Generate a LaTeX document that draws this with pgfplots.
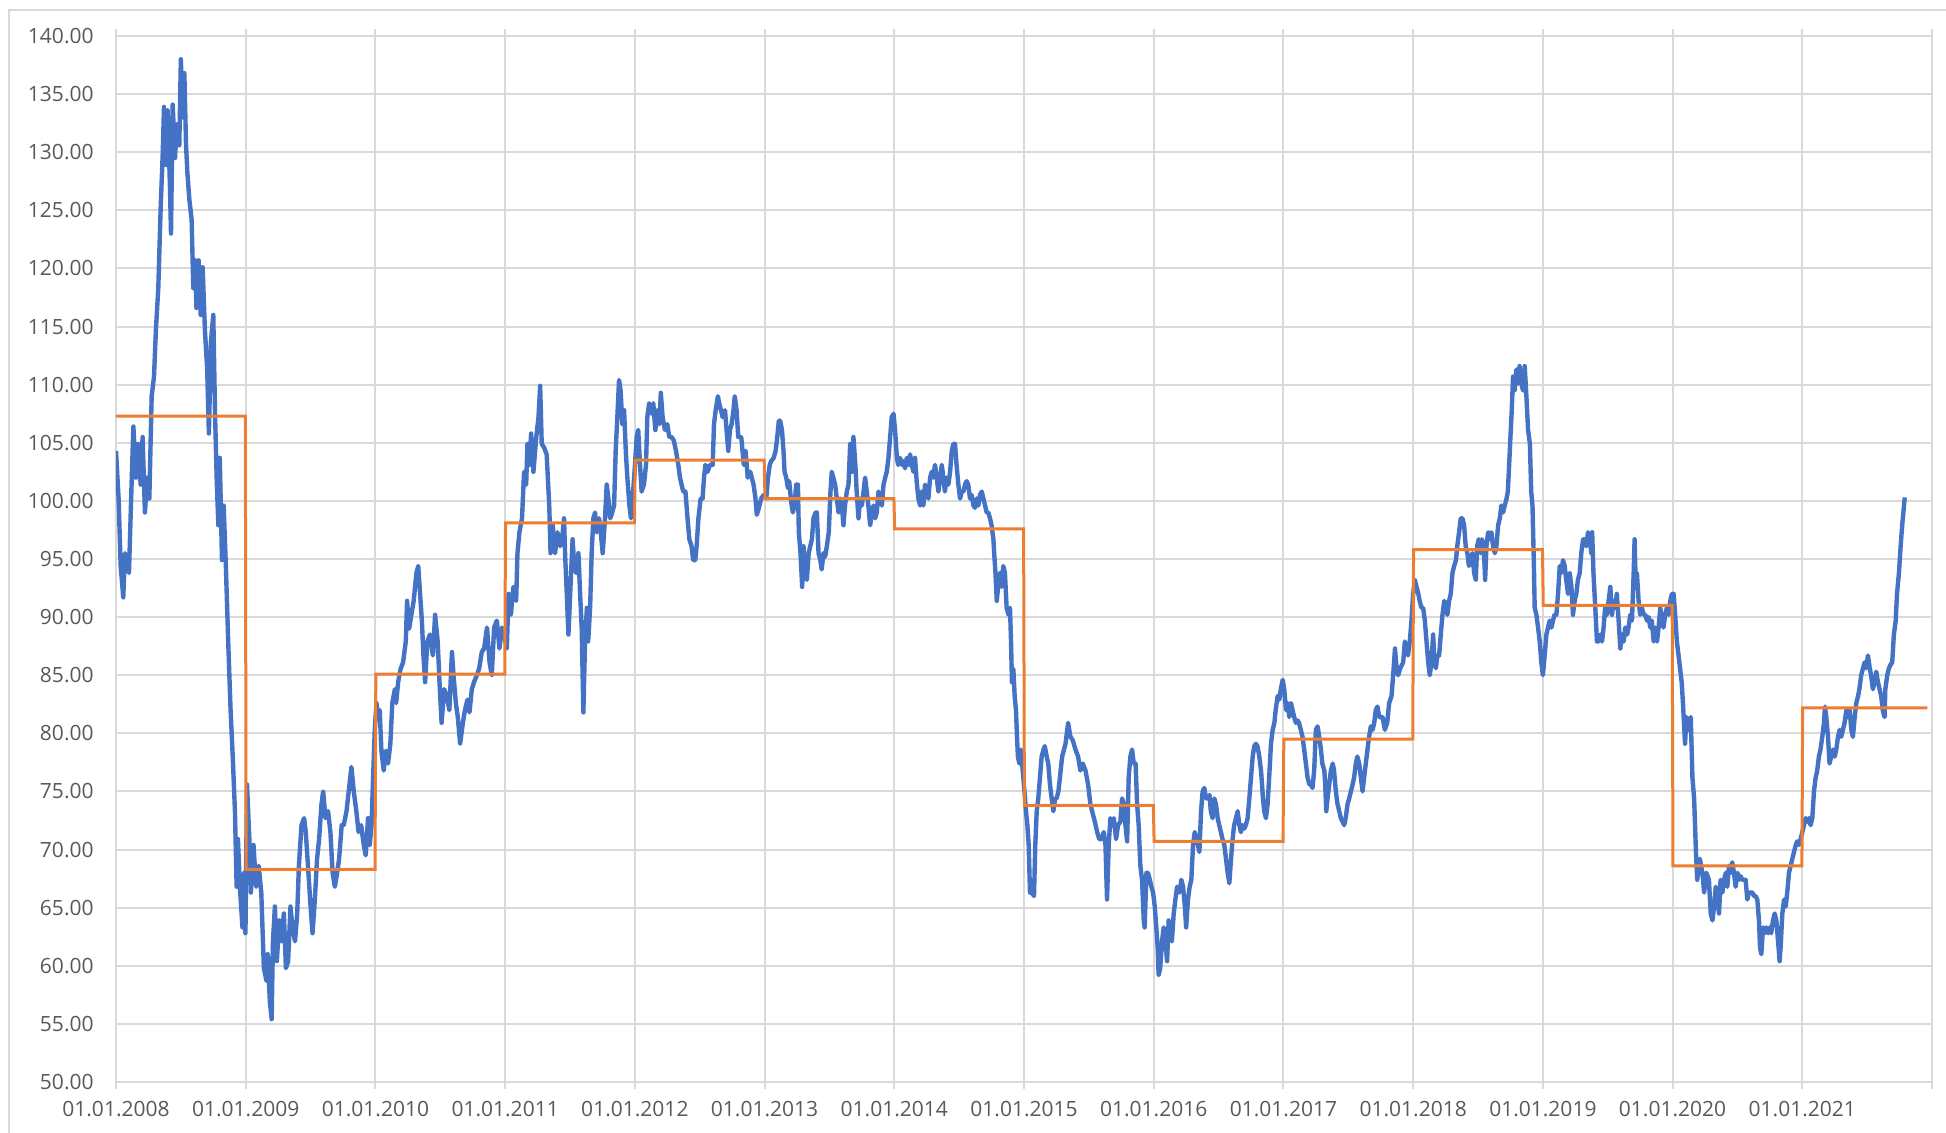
\documentclass[border=0pt]{standalone}
\usepackage{fontspec}
\setmainfont{Open Sans}
\usepackage{pgfplots}
\pgfplotsset{compat=1.18}
\definecolor{bl}{HTML}{4472C4}
\definecolor{orc}{HTML}{ED7D31}
\definecolor{gr}{HTML}{D9D9D9}
\definecolor{tx}{HTML}{595959}
\begin{document}
\begin{tikzpicture}
\begin{axis}[
  scale only axis, width=908pt, height=523pt,
  xmin=2008, xmax=2022, ymin=50, ymax=140,
  xtick={2008,2009,2010,2011,2012,2013,2014,2015,2016,2017,2018,2019,2020,2021,2022},
  xticklabels={01.01.2008,01.01.2009,01.01.2010,01.01.2011,01.01.2012,01.01.2013,01.01.2014,01.01.2015,01.01.2016,01.01.2017,01.01.2018,01.01.2019,01.01.2020,01.01.2021,{}},
  ytick={50,55,60,65,70,75,80,85,90,95,100,105,110,115,120,125,130,135,140},
  yticklabels={50.00,55.00,60.00,65.00,70.00,75.00,80.00,85.00,90.00,95.00,100.00,105.00,110.00,115.00,120.00,125.00,130.00,135.00,140.00},
  grid=major, grid style={draw=gr, line width=1pt},
  axis line style={draw=gr, line width=1pt},
  xtick align=outside, major tick length=3.5pt,
  xtick style={draw=gr, line width=1pt},
  ytick style={draw=none},
  tick label style={font=\fontsize{10.5pt}{12pt}\selectfont, text=tx},
  xticklabel style={anchor=north, inner sep=0pt, yshift=-6pt},
  yticklabel style={anchor=east, inner sep=0pt, xshift=-11pt},
]
\addplot[bl, line width=2.2pt, line join=round] table[row sep=\\] {
x y\\
2008.000 104.3\\ 2008.020 100.2\\ 2008.036 94.4\\ 2008.056 91.7\\ 2008.069 95.5\\ 2008.100 93.8\\
2008.120 101.4\\ 2008.134 106.4\\ 2008.154 102.0\\ 2008.172 104.9\\ 2008.190 101.4\\ 2008.205 105.5\\
2008.223 99.0\\ 2008.240 102.0\\ 2008.257 100.2\\ 2008.275 109.0\\ 2008.293 110.7\\ 2008.308 114.8\\
2008.326 118.3\\ 2008.344 125.1\\ 2008.360 129.8\\ 2008.370 133.9\\ 2008.385 128.9\\ 2008.398 133.6\\
2008.416 127.1\\ 2008.424 123.0\\ 2008.437 134.1\\ 2008.455 129.5\\ 2008.470 132.4\\ 2008.488 130.6\\
2008.500 138.0\\ 2008.514 133.0\\ 2008.527 136.8\\ 2008.540 130.6\\ 2008.550 128.3\\ 2008.565 126.0\\
2008.583 124.2\\ 2008.596 118.3\\ 2008.609 120.7\\ 2008.620 116.6\\ 2008.637 120.7\\ 2008.653 116.0\\
2008.668 120.1\\ 2008.685 114.8\\ 2008.703 111.3\\ 2008.716 105.8\\ 2008.732 113.7\\ 2008.750 116.0\\
2008.763 107.8\\ 2008.776 102.0\\ 2008.789 97.9\\ 2008.800 103.7\\ 2008.817 94.9\\ 2008.830 99.6\\
2008.847 94.4\\ 2008.865 87.9\\ 2008.883 82.1\\ 2008.900 78.0\\ 2008.917 73.3\\ 2008.930 66.8\\
2008.940 70.9\\ 2008.955 66.8\\ 2008.975 63.3\\ 2008.988 68.0\\ 2008.998 62.8\\
2009.010 75.6\\ 2009.030 70.4\\ 2009.040 66.3\\ 2009.060 70.4\\ 2009.080 66.8\\ 2009.100 68.6\\
2009.120 66.3\\ 2009.140 59.8\\ 2009.160 58.7\\ 2009.170 61.0\\ 2009.186 56.9\\ 2009.200 55.4\\
2009.210 62.1\\ 2009.225 65.1\\ 2009.240 60.4\\ 2009.258 63.9\\ 2009.276 62.1\\ 2009.294 64.5\\
2009.310 59.8\\ 2009.327 60.4\\ 2009.345 65.1\\ 2009.360 63.3\\ 2009.380 62.1\\ 2009.397 64.5\\
2009.410 68.6\\ 2009.430 72.1\\ 2009.450 72.7\\ 2009.463 71.5\\ 2009.480 68.6\\ 2009.500 65.1\\
2009.515 62.8\\ 2009.533 65.7\\ 2009.550 69.2\\ 2009.566 70.9\\ 2009.584 73.9\\ 2009.597 75.0\\
2009.615 72.7\\ 2009.635 73.3\\ 2009.653 71.5\\ 2009.670 68.0\\ 2009.687 66.8\\ 2009.705 68.0\\
2009.720 69.2\\ 2009.740 72.1\\ 2009.756 72.1\\ 2009.777 73.3\\ 2009.800 75.6\\ 2009.815 77.1\\
2009.833 75.0\\ 2009.853 73.3\\ 2009.870 71.5\\ 2009.890 72.1\\ 2009.910 70.4\\ 2009.925 69.5\\
2009.943 72.7\\ 2009.956 70.4\\ 2009.970 72.1\\ 2009.982 76.2\\ 2009.995 80.3\\
2010.008 82.6\\ 2010.020 81.4\\ 2010.033 82.0\\ 2010.046 78.5\\ 2010.064 76.8\\ 2010.080 78.5\\
2010.097 77.4\\ 2010.115 79.1\\ 2010.130 82.6\\ 2010.150 83.8\\ 2010.160 82.6\\ 2010.175 84.4\\
2010.193 85.5\\ 2010.213 86.1\\ 2010.234 87.9\\ 2010.244 91.4\\ 2010.260 89.0\\ 2010.277 90.2\\
2010.295 91.4\\ 2010.316 93.8\\ 2010.330 94.4\\
2010.358 89.7\\ 2010.370 86.7\\ 2010.383 84.4\\ 2010.400 87.9\\ 2010.420 88.5\\ 2010.443 86.7\\
2010.460 90.2\\ 2010.480 87.9\\ 2010.494 84.4\\ 2010.510 80.9\\ 2010.530 83.8\\ 2010.550 83.2\\
2010.570 82.0\\ 2010.590 87.0\\ 2010.602 85.0\\ 2010.620 82.6\\ 2010.635 81.4\\ 2010.653 79.1\\
2010.674 80.9\\ 2010.690 82.0\\ 2010.710 82.9\\ 2010.725 81.8\\ 2010.743 83.8\\ 2010.760 84.4\\
2010.782 85.0\\ 2010.800 85.6\\ 2010.820 87.0\\ 2010.838 87.3\\ 2010.860 89.1\\ 2010.880 86.1\\
2010.897 85.0\\ 2010.915 89.1\\ 2010.936 89.7\\ 2010.956 87.3\\ 2010.975 89.1\\ 2010.992 88.5\\
2011.013 87.3\\ 2011.026 92.0\\ 2011.044 90.2\\ 2011.064 92.6\\ 2011.085 91.4\\ 2011.095 95.5\\
2011.110 97.3\\ 2011.130 98.5\\ 2011.146 102.5\\ 2011.162 101.4\\ 2011.172 104.9\\ 2011.187 103.1\\
2011.200 105.8\\ 2011.218 102.5\\ 2011.240 105.5\\ 2011.257 107.2\\ 2011.270 109.9\\ 2011.282 104.9\\
2011.300 104.6\\ 2011.320 104.0\\ 2011.340 99.6\\ 2011.350 95.5\\ 2011.367 97.9\\ 2011.385 95.5\\
2011.403 97.3\\ 2011.424 96.1\\ 2011.444 97.3\\ 2011.454 98.5\\ 2011.462 95.5\\ 2011.475 92.0\\
2011.488 88.5\\ 2011.506 93.2\\ 2011.520 96.7\\ 2011.530 94.9\\ 2011.547 93.8\\ 2011.565 95.5\\
2011.578 92.0\\ 2011.590 89.1\\ 2011.603 81.8\\ 2011.616 87.9\\ 2011.630 90.8\\ 2011.640 87.9\\
2011.655 90.8\\ 2011.667 95.5\\ 2011.680 98.5\\ 2011.693 99.0\\ 2011.706 97.3\\ 2011.724 98.5\\
2011.737 97.3\\ 2011.752 95.5\\ 2011.770 98.5\\ 2011.783 101.4\\ 2011.796 100.2\\ 2011.810 98.5\\
2011.820 98.8\\ 2011.840 99.6\\ 2011.852 104.3\\ 2011.865 107.2\\ 2011.878 110.4\\ 2011.890 109.5\\
2011.904 106.6\\ 2011.917 107.8\\ 2011.930 104.3\\ 2011.942 102.0\\ 2011.958 99.6\\ 2011.970 98.5\\
2011.983 100.2\\
2012.001 103.1\\ 2012.014 105.5\\ 2012.026 106.1\\ 2012.040 103.1\\ 2012.052 100.8\\ 2012.070 101.4\\
2012.086 103.1\\ 2012.096 107.2\\ 2012.110 108.4\\ 2012.130 107.5\\ 2012.142 108.4\\ 2012.158 106.1\\
2012.173 107.8\\ 2012.190 106.6\\ 2012.200 109.3\\ 2012.214 107.2\\ 2012.232 106.1\\ 2012.250 106.6\\
2012.265 105.5\\ 2012.283 105.5\\ 2012.300 105.2\\ 2012.317 104.3\\ 2012.335 103.1\\ 2012.348 102.0\\
2012.360 101.4\\ 2012.373 100.8\\ 2012.390 100.8\\ 2012.406 98.5\\ 2012.420 96.7\\ 2012.437 96.1\\
2012.450 94.9\\ 2012.466 94.9\\ 2012.476 96.1\\ 2012.490 98.5\\ 2012.507 100.2\\ 2012.522 100.2\\
2012.533 102.0\\ 2012.544 103.1\\ 2012.560 102.5\\ 2012.580 103.1\\ 2012.600 103.1\\ 2012.610 106.6\\
2012.623 107.8\\ 2012.640 109.0\\ 2012.650 108.4\\ 2012.664 107.8\\ 2012.677 107.2\\ 2012.695 107.8\\
2012.707 106.1\\ 2012.720 104.3\\ 2012.733 106.1\\ 2012.746 106.6\\ 2012.760 107.8\\ 2012.770 109.0\\
2012.784 107.8\\ 2012.797 105.5\\
2012.820 105.5\\ 2012.840 103.1\\ 2012.854 104.3\\ 2012.870 102.0\\ 2012.890 102.5\\ 2012.915 101.4\\
2012.930 100.2\\ 2012.940 98.8\\ 2012.956 99.4\\ 2012.974 100.2\\ 2012.992 100.5\\
2013.013 100.2\\ 2013.026 102.0\\ 2013.040 103.1\\ 2013.050 103.4\\ 2013.070 103.7\\ 2013.085 104.3\\
2013.098 105.5\\ 2013.110 106.9\\ 2013.120 106.9\\ 2013.134 106.1\\ 2013.146 104.3\\ 2013.154 102.5\\
2013.167 102.0\\ 2013.180 101.1\\ 2013.190 101.7\\ 2013.205 99.9\\ 2013.218 99.0\\ 2013.230 99.6\\
2013.244 101.4\\ 2013.257 101.4\\ 2013.264 97.3\\ 2013.277 95.5\\ 2013.290 92.6\\ 2013.300 96.1\\
2013.313 93.8\\ 2013.326 93.2\\ 2013.340 95.5\\ 2013.352 96.1\\ 2013.365 96.7\\ 2013.377 98.5\\
2013.393 99.0\\ 2013.403 99.0\\ 2013.416 95.5\\ 2013.430 94.9\\ 2013.440 94.1\\ 2013.454 95.5\\
2013.467 95.2\\ 2013.480 96.1\\ 2013.495 97.3\\ 2013.508 100.8\\ 2013.518 102.5\\ 2013.530 102.0\\
2013.544 101.4\\ 2013.557 100.2\\ 2013.570 99.0\\ 2013.583 100.2\\ 2013.596 99.6\\ 2013.608 97.9\\
2013.620 99.6\\ 2013.634 100.8\\ 2013.647 101.4\\ 2013.660 104.9\\ 2013.673 102.5\\ 2013.685 105.5\\
2013.700 103.1\\ 2013.710 100.8\\ 2013.724 98.5\\ 2013.737 100.2\\ 2013.750 99.6\\ 2013.763 100.8\\
2013.775 102.0\\ 2013.788 100.8\\ 2013.800 99.6\\ 2013.814 97.9\\ 2013.827 99.0\\ 2013.840 99.6\\
2013.852 98.5\\ 2013.865 99.0\\ 2013.878 100.8\\ 2013.890 100.2\\ 2013.904 99.6\\ 2013.917 101.4\\
2013.930 102.0\\ 2013.942 102.5\\ 2013.955 103.7\\ 2013.968 105.5\\ 2013.980 107.2\\ 2013.994 107.5\\
2014.006 106.1\\ 2014.020 103.7\\ 2014.030 103.1\\ 2014.045 103.7\\ 2014.058 103.1\\ 2014.070 103.4\\
2014.083 102.8\\ 2014.096 103.7\\ 2014.110 103.1\\ 2014.122 104.0\\ 2014.135 103.1\\ 2014.148 102.5\\
2014.160 103.7\\ 2014.173 101.6\\ 2014.186 100.2\\ 2014.199 99.6\\ 2014.210 100.8\\ 2014.224 99.6\\
2014.237 101.4\\ 2014.250 100.8\\ 2014.263 100.2\\ 2014.276 102.0\\ 2014.288 102.5\\ 2014.300 102.0\\
2014.314 103.1\\ 2014.327 102.0\\ 2014.340 100.8\\ 2014.353 102.0\\ 2014.366 103.1\\ 2014.378 102.0\\
2014.390 100.8\\ 2014.404 102.0\\ 2014.417 101.4\\ 2014.430 102.5\\ 2014.443 104.3\\ 2014.455 104.9\\
2014.468 104.9\\ 2014.480 103.1\\ 2014.494 101.4\\ 2014.507 100.2\\ 2014.520 100.8\\ 2014.533 100.8\\
2014.545 101.4\\ 2014.558 101.7\\ 2014.570 101.4\\ 2014.584 100.2\\ 2014.597 100.5\\ 2014.610 99.6\\
2014.622 99.4\\ 2014.635 100.2\\ 2014.648 99.6\\ 2014.660 100.5\\ 2014.674 100.8\\ 2014.687 100.2\\
2014.700 99.6\\ 2014.712 99.0\\ 2014.725 99.0\\ 2014.738 98.5\\ 2014.750 97.9\\ 2014.764 96.7\\
2014.770 95.5\\ 2014.780 93.8\\ 2014.790 91.4\\ 2014.800 92.6\\ 2014.815 93.8\\ 2014.828 92.6\\
2014.840 94.4\\ 2014.853 93.8\\ 2014.866 90.8\\ 2014.880 90.2\\ 2014.892 90.8\\ 2014.900 87.9\\
2014.907 84.4\\ 2014.918 85.5\\ 2014.928 83.2\\ 2014.938 82.0\\ 2014.946 79.7\\ 2014.953 78.0\\
2014.964 77.4\\ 2014.977 78.6\\ 2014.990 76.8\\
2015.008 74.4\\ 2015.015 73.3\\ 2015.026 72.1\\ 2015.036 70.4\\ 2015.046 66.3\\ 2015.062 66.3\\
2015.077 66.0\\ 2015.087 70.4\\ 2015.098 73.3\\ 2015.110 74.4\\ 2015.123 76.2\\ 2015.136 78.0\\
2015.150 78.6\\ 2015.160 78.9\\ 2015.175 78.0\\ 2015.187 77.4\\ 2015.200 75.6\\ 2015.213 74.4\\
2015.226 73.3\\ 2015.240 74.4\\ 2015.252 74.4\\ 2015.265 75.0\\ 2015.277 76.2\\
2015.294 78.0\\ 2015.320 79.1\\ 2015.340 80.9\\ 2015.358 79.7\\ 2015.376 79.4\\ 2015.397 78.6\\
2015.417 78.0\\ 2015.435 76.8\\ 2015.453 77.4\\ 2015.474 76.8\\ 2015.494 75.6\\ 2015.512 73.9\\
2015.525 73.3\\ 2015.546 72.4\\ 2015.564 71.5\\ 2015.580 70.9\\ 2015.597 70.9\\ 2015.615 71.5\\
2015.628 70.4\\ 2015.640 65.7\\ 2015.653 70.4\\ 2015.666 72.7\\ 2015.680 72.1\\ 2015.692 72.7\\
2015.710 70.9\\ 2015.725 72.1\\ 2015.743 72.4\\ 2015.756 74.4\\ 2015.770 73.9\\ 2015.782 72.1\\
2015.795 70.7\\ 2015.807 76.2\\ 2015.820 78.0\\ 2015.833 78.6\\ 2015.846 77.4\\ 2015.860 77.4\\
2015.872 73.9\\ 2015.884 72.1\\ 2015.897 68.6\\ 2015.910 67.4\\ 2015.923 63.9\\ 2015.930 63.3\\
2015.944 68.0\\ 2015.956 68.0\\ 2015.970 67.4\\ 2015.982 66.8\\ 2015.995 66.3\\
2016.008 65.1\\ 2016.020 63.3\\ 2016.030 61.6\\ 2016.038 59.2\\ 2016.050 59.8\\ 2016.064 62.1\\
2016.077 63.3\\ 2016.090 62.1\\ 2016.103 60.4\\ 2016.115 63.9\\ 2016.128 62.8\\ 2016.140 62.1\\
2016.154 64.5\\ 2016.167 65.7\\ 2016.180 66.8\\ 2016.198 66.3\\ 2016.213 67.4\\ 2016.226 66.8\\
2016.240 65.1\\ 2016.250 63.3\\ 2016.264 65.7\\ 2016.277 66.8\\ 2016.290 67.4\\ 2016.303 70.4\\
2016.316 71.5\\ 2016.330 70.9\\ 2016.340 70.4\\ 2016.352 69.8\\ 2016.365 73.3\\ 2016.377 75.0\\
2016.390 75.3\\ 2016.403 74.4\\ 2016.416 74.4\\ 2016.430 74.7\\ 2016.440 73.3\\ 2016.454 72.7\\
2016.467 74.4\\ 2016.480 73.9\\ 2016.493 72.7\\ 2016.505 72.1\\ 2016.518 71.5\\ 2016.530 70.9\\
2016.544 70.4\\ 2016.557 69.2\\ 2016.570 68.0\\ 2016.583 67.1\\ 2016.596 69.2\\ 2016.608 70.9\\
2016.620 72.1\\ 2016.634 72.7\\ 2016.647 73.3\\ 2016.660 72.1\\ 2016.672 71.5\\ 2016.685 72.1\\
2016.698 71.8\\ 2016.710 72.1\\ 2016.724 72.7\\ 2016.737 74.4\\ 2016.750 76.2\\ 2016.763 78.0\\
2016.775 78.9\\ 2016.788 79.1\\ 2016.800 78.9\\ 2016.814 78.0\\ 2016.827 76.8\\ 2016.835 75.6\\
2016.842 74.4\\ 2016.852 73.3\\ 2016.865 72.7\\ 2016.878 73.9\\ 2016.890 76.2\\ 2016.904 79.1\\
2016.917 80.3\\ 2016.930 80.9\\ 2016.940 82.0\\ 2016.955 83.2\\ 2016.968 82.9\\ 2016.980 83.8\\
2016.994 84.6\\
2017.006 83.8\\ 2017.020 82.0\\ 2017.032 82.6\\ 2017.045 81.4\\ 2017.058 82.6\\ 2017.070 82.0\\
2017.083 81.4\\ 2017.096 80.9\\ 2017.110 81.1\\ 2017.120 80.9\\ 2017.134 80.3\\ 2017.147 79.7\\
2017.160 78.6\\ 2017.173 77.4\\ 2017.186 76.2\\ 2017.200 75.6\\ 2017.210 75.6\\ 2017.224 75.3\\
2017.237 76.8\\ 2017.250 80.3\\ 2017.263 80.6\\ 2017.276 79.7\\ 2017.289 78.6\\ 2017.300 77.4\\
2017.315 76.8\\ 2017.322 75.6\\ 2017.330 73.3\\ 2017.340 74.4\\ 2017.353 75.6\\ 2017.366 76.8\\
2017.380 77.4\\ 2017.390 76.8\\ 2017.404 75.0\\ 2017.417 73.9\\ 2017.430 73.3\\ 2017.443 72.7\\
2017.456 72.4\\ 2017.468 72.1\\ 2017.480 72.7\\ 2017.494 73.9\\ 2017.507 74.4\\ 2017.520 75.0\\
2017.533 75.6\\ 2017.545 76.2\\ 2017.558 77.4\\ 2017.570 78.0\\ 2017.584 77.4\\ 2017.597 76.2\\
2017.610 75.0\\ 2017.622 76.2\\ 2017.635 77.4\\ 2017.648 78.6\\ 2017.660 79.7\\ 2017.674 80.6\\
2017.687 80.3\\ 2017.700 80.9\\ 2017.712 82.0\\ 2017.725 82.3\\ 2017.738 81.4\\
2017.764 81.4\\ 2017.782 80.3\\ 2017.800 80.9\\ 2017.815 82.6\\ 2017.833 83.2\\ 2017.846 85.0\\
2017.860 87.3\\ 2017.872 85.6\\ 2017.884 85.0\\ 2017.900 85.6\\ 2017.923 86.1\\ 2017.936 87.9\\
2017.950 87.3\\ 2017.960 86.7\\ 2017.974 87.9\\ 2017.987 89.7\\ 2018.000 92.0\\
2018.013 93.2\\ 2018.026 92.6\\ 2018.040 92.0\\ 2018.050 91.4\\ 2018.064 90.8\\ 2018.077 90.8\\
2018.090 89.7\\ 2018.103 87.9\\ 2018.116 86.1\\ 2018.128 85.0\\ 2018.141 86.1\\ 2018.154 88.5\\
2018.162 86.7\\ 2018.175 85.6\\ 2018.187 86.7\\ 2018.200 86.7\\ 2018.213 88.5\\ 2018.226 90.2\\
2018.240 91.4\\ 2018.250 90.8\\ 2018.264 90.2\\ 2018.277 91.4\\ 2018.290 92.0\\ 2018.303 93.8\\
2018.316 94.4\\ 2018.330 94.9\\ 2018.340 96.1\\ 2018.354 97.3\\ 2018.367 98.5\\ 2018.380 98.5\\
2018.393 97.9\\ 2018.405 96.1\\ 2018.418 95.5\\ 2018.430 94.4\\ 2018.444 94.9\\ 2018.457 95.5\\
2018.470 93.8\\ 2018.483 93.2\\ 2018.493 96.1\\ 2018.506 96.7\\ 2018.520 95.5\\ 2018.530 96.7\\
2018.544 96.1\\ 2018.555 93.2\\ 2018.565 96.1\\ 2018.578 97.3\\ 2018.590 96.7\\ 2018.603 97.3\\
2018.616 96.1\\ 2018.630 95.5\\ 2018.642 96.1\\ 2018.655 97.9\\ 2018.668 98.5\\ 2018.680 99.6\\
2018.693 99.0\\ 2018.706 99.6\\ 2018.720 100.2\\ 2018.730 100.8\\ 2018.740 103.1\\ 2018.750 105.5\\
2018.760 107.8\\ 2018.770 110.7\\ 2018.783 109.5\\ 2018.796 111.3\\ 2018.810 110.1\\ 2018.820 111.6\\
2018.834 110.1\\ 2018.847 109.5\\ 2018.860 111.6\\ 2018.873 109.0\\ 2018.886 106.1\\ 2018.900 104.9\\
2018.910 100.8\\ 2018.920 99.6\\ 2018.930 94.9\\ 2018.937 90.8\\ 2018.950 90.2\\ 2018.963 89.1\\
2018.976 87.9\\ 2018.988 86.1\\ 2019.000 85.0\\
2019.014 86.7\\ 2019.027 88.5\\ 2019.040 89.1\\ 2019.053 89.7\\ 2019.066 89.1\\ 2019.078 89.7\\
2019.090 90.2\\ 2019.104 90.2\\ 2019.117 92.0\\ 2019.130 94.4\\ 2019.142 93.8\\ 2019.155 94.9\\
2019.168 94.4\\ 2019.180 93.2\\ 2019.194 92.0\\ 2019.207 93.8\\ 2019.220 92.6\\ 2019.232 90.2\\
2019.245 91.4\\ 2019.258 92.0\\ 2019.270 93.2\\ 2019.284 93.8\\ 2019.296 95.5\\ 2019.310 96.7\\
2019.322 96.7\\ 2019.335 96.1\\ 2019.348 97.3\\ 2019.360 96.7\\ 2019.374 95.5\\ 2019.380 97.3\\
2019.390 93.8\\ 2019.404 90.8\\ 2019.417 87.9\\ 2019.430 87.9\\ 2019.443 88.5\\ 2019.456 87.9\\
2019.468 89.1\\ 2019.480 90.8\\ 2019.494 90.2\\ 2019.507 91.4\\ 2019.520 92.6\\ 2019.533 90.2\\
2019.545 91.4\\ 2019.558 90.8\\ 2019.570 92.0\\ 2019.584 89.7\\ 2019.597 87.3\\ 2019.610 88.5\\
2019.623 87.9\\ 2019.635 89.1\\ 2019.650 88.5\\ 2019.660 89.1\\ 2019.674 90.2\\ 2019.687 89.7\\
2019.700 93.8\\ 2019.707 96.7\\ 2019.715 93.2\\ 2019.725 93.8\\ 2019.738 91.4\\ 2019.750 90.2\\
2019.764 90.8\\ 2019.777 90.2\\ 2019.790 90.2\\ 2019.802 89.7\\ 2019.815 90.0\\ 2019.828 89.1\\
2019.840 89.7\\ 2019.854 87.9\\ 2019.866 89.1\\ 2019.880 87.9\\ 2019.892 89.1\\ 2019.905 90.8\\
2019.918 89.7\\ 2019.930 89.1\\ 2019.943 90.2\\ 2019.956 90.8\\ 2019.970 90.2\\ 2019.982 91.4\\
2019.995 92.0\\
2020.008 92.0\\ 2020.020 90.2\\ 2020.033 87.9\\ 2020.046 86.7\\
2020.070 84.4\\ 2020.080 82.6\\ 2020.096 79.1\\ 2020.107 81.4\\ 2020.122 80.3\\ 2020.140 81.4\\
2020.153 76.2\\ 2020.166 74.4\\ 2020.180 69.8\\ 2020.190 67.4\\ 2020.210 69.2\\ 2020.230 68.0\\
2020.243 66.3\\ 2020.260 68.0\\ 2020.280 67.4\\ 2020.294 64.5\\ 2020.307 63.9\\ 2020.320 65.1\\
2020.333 66.8\\ 2020.345 65.7\\ 2020.358 64.5\\ 2020.370 67.4\\ 2020.384 66.3\\ 2020.397 67.4\\
2020.410 68.0\\ 2020.422 66.8\\ 2020.435 68.6\\ 2020.448 68.0\\ 2020.460 68.9\\ 2020.473 68.0\\
2020.486 66.8\\ 2020.500 68.0\\ 2020.512 67.4\\ 2020.525 67.7\\ 2020.538 67.4\\ 2020.550 67.4\\
2020.563 67.4\\ 2020.576 65.7\\ 2020.589 66.3\\ 2020.600 66.3\\ 2020.615 66.3\\ 2020.628 66.0\\
2020.640 66.0\\ 2020.653 65.7\\ 2020.666 63.9\\ 2020.674 61.6\\ 2020.684 61.0\\ 2020.697 63.3\\
2020.710 62.8\\ 2020.722 63.3\\ 2020.736 62.8\\ 2020.748 63.3\\ 2020.760 62.8\\ 2020.774 63.9\\
2020.787 64.5\\ 2020.800 63.9\\ 2020.813 62.1\\ 2020.825 60.4\\ 2020.833 61.6\\ 2020.846 64.5\\
2020.860 65.7\\ 2020.872 65.1\\ 2020.884 66.3\\ 2020.897 68.0\\ 2020.910 68.6\\ 2020.923 69.2\\
2020.936 69.8\\ 2020.950 70.4\\ 2020.960 70.7\\ 2020.974 70.4\\ 2020.987 70.9\\ 2021.000 71.5\\
2021.013 72.1\\ 2021.026 72.7\\ 2021.038 72.4\\ 2021.050 72.7\\ 2021.064 72.1\\ 2021.077 72.7\\
2021.090 75.0\\ 2021.103 76.2\\ 2021.115 76.8\\ 2021.128 78.0\\ 2021.140 78.6\\ 2021.154 79.7\\
2021.167 80.9\\ 2021.175 82.3\\ 2021.185 81.4\\ 2021.198 79.7\\ 2021.210 77.4\\ 2021.223 78.0\\
2021.236 78.6\\ 2021.250 78.0\\ 2021.262 78.6\\ 2021.275 79.7\\ 2021.288 80.3\\ 2021.300 79.7\\
2021.313 80.3\\ 2021.326 80.9\\ 2021.340 82.0\\ 2021.350 81.4\\ 2021.365 82.0\\ 2021.378 80.3\\
2021.390 79.7\\ 2021.404 81.4\\ 2021.416 82.6\\ 2021.430 83.2\\ 2021.440 83.8\\ 2021.454 85.0\\
2021.468 85.6\\ 2021.480 86.1\\ 2021.493 85.6\\ 2021.506 86.7\\ 2021.520 85.6\\ 2021.530 85.0\\
2021.544 83.8\\ 2021.557 84.4\\ 2021.570 85.3\\ 2021.583 84.4\\ 2021.596 83.8\\ 2021.608 83.2\\
2021.620 82.0\\ 2021.634 81.4\\ 2021.640 83.8\\ 2021.655 85.0\\ 2021.668 85.6\\ 2021.680 85.9\\
2021.693 86.1\\ 2021.706 88.5\\ 2021.720 89.7\\ 2021.730 92.0\\ 2021.745 93.8\\ 2021.758 96.1\\
2021.770 97.9\\ 2021.784 99.6\\ 2021.790 100.3\\
};
\addplot[orc, line width=1.5pt, line join=miter] coordinates {
(2008.000,107.3) (2008.997,107.3) (2009.003,68.3) (2009.997,68.3)
(2010.003,85.1) (2010.997,85.1) (2011.003,98.1) (2011.997,98.1)
(2012.003,103.5) (2012.997,103.5) (2013.003,100.2) (2013.997,100.2)
(2014.003,97.6) (2014.997,97.6) (2015.003,73.8) (2015.997,73.8)
(2016.003,70.7) (2016.997,70.7) (2017.003,79.5) (2017.997,79.5)
(2018.003,95.8) (2018.997,95.8) (2019.003,91.0) (2019.997,91.0)
(2020.003,68.6) (2020.997,68.6) (2021.003,82.2) (2021.965,82.2)
};
\end{axis}
\draw[gr, line width=1pt] (-53.5pt,-25.5pt) -- (-53.5pt,536pt) -- (915pt,536pt);
\pgfresetboundingbox
\useasboundingbox (-58pt,-25.5pt) rectangle (915pt,541pt);
\end{tikzpicture}
\end{document}
